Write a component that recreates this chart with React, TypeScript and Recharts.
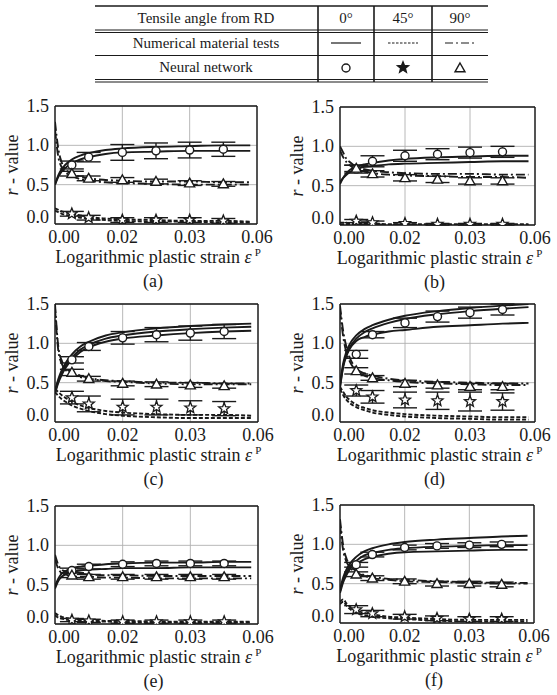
import React from "react";
import {
  ComposedChart,
  Line,
  Scatter,
  ErrorBar,
  XAxis,
  YAxis,
  CartesianGrid,
  ReferenceLine,
} from "recharts";

// strain points used by the numerical material tests, and by the network
const LINE_X = [0, 0.001, 0.002, 0.003, 0.005, 0.0075, 0.01, 0.015, 0.02, 0.03, 0.04, 0.05, 0.058];
const NN_X = [0.005, 0.01, 0.02, 0.03, 0.04, 0.05];

const X_TICKS = [0, 0.02, 0.04, 0.06];
const X_TICK_LABELS = ["0.00", "0.02", "0.03", "0.06"];
const Y_TICKS = [0, 0.5, 1.0, 1.5];
const Y_TICK_LABELS = ["0.0", "0.5", "1.0", "1.5"];
const PANEL_LABELS = ["(a)", "(b)", "(c)", "(d)", "(e)", "(f)"];

// (a)
const A_SIM_0 = [
  [0.5, 0.62, 0.7, 0.75, 0.82, 0.87, 0.9, 0.94, 0.96, 0.98, 0.99, 1.0, 1.0],
  [0.5, 0.6, 0.67, 0.71, 0.77, 0.82, 0.85, 0.89, 0.91, 0.92, 0.93, 0.93, 0.93],
];
const A_SIM_45 = [
  [0.2, 0.18, 0.16, 0.15, 0.13, 0.11, 0.09, 0.07, 0.06, 0.05, 0.04, 0.04, 0.03],
  [0.17, 0.15, 0.13, 0.12, 0.1, 0.08, 0.07, 0.05, 0.04, 0.03, 0.03, 0.02, 0.02],
];
const A_SIM_90 = [
  [1.3, 0.95, 0.78, 0.7, 0.64, 0.6, 0.58, 0.56, 0.55, 0.54, 0.54, 0.53, 0.53],
  [1.2, 0.85, 0.72, 0.66, 0.61, 0.57, 0.55, 0.53, 0.52, 0.51, 0.5, 0.5, 0.5],
];
const A_NN_0 = [0.75, 0.85, 0.91, 0.93, 0.94, 0.95];
const A_ERR_0 = [0.05, 0.06, 0.1, 0.1, 0.1, 0.09];
const A_NN_45 = [0.13, 0.08, 0.05, 0.05, 0.05, 0.04];
const A_ERR_45 = [0.03, 0.03, 0.03, 0.03, 0.03, 0.03];
const A_NN_90 = [0.64, 0.58, 0.56, 0.54, 0.52, 0.51];
const A_ERR_90 = [0.03, 0.03, 0.03, 0.03, 0.03, 0.03];

// (b)
const B_SIM_0 = [
  [0.52, 0.6, 0.66, 0.7, 0.74, 0.77, 0.79, 0.82, 0.84, 0.86, 0.87, 0.88, 0.88],
  [0.55, 0.6, 0.64, 0.67, 0.71, 0.74, 0.75, 0.77, 0.78, 0.79, 0.8, 0.81, 0.81],
];
const B_SIM_45 = [
  [0.03, 0.03, 0.03, 0.02, 0.02, 0.02, 0.02, 0.01, 0.01, 0.01, 0.01, 0.01, 0.01],
  [0.01, 0.01, 0.01, 0.01, 0.01, 0.0, 0.0, 0.0, 0.0, 0.0, 0.0, 0.0, 0.0],
];
const B_SIM_90 = [
  [1.0, 0.92, 0.84, 0.8, 0.74, 0.71, 0.69, 0.67, 0.66, 0.65, 0.65, 0.64, 0.64],
  [0.95, 0.86, 0.8, 0.76, 0.71, 0.68, 0.66, 0.64, 0.63, 0.62, 0.61, 0.61, 0.6],
];
const B_NN_0 = [0.71, 0.81, 0.88, 0.9, 0.92, 0.93];
const B_ERR_0 = [0.05, 0.07, 0.07, 0.07, 0.07, 0.07];
const B_NN_45 = [0.05, 0.03, 0.02, 0.01, 0.01, 0.01];
const B_ERR_45 = [0.02, 0.02, 0.01, 0.01, 0.01, 0.01];
const B_NN_90 = [0.72, 0.65, 0.6, 0.58, 0.56, 0.56];
const B_ERR_90 = [0.04, 0.04, 0.04, 0.04, 0.04, 0.04];

// (c)
const C_SIM_0 = [
  [0.4, 0.55, 0.66, 0.74, 0.86, 0.96, 1.02, 1.1, 1.14, 1.19, 1.22, 1.24, 1.25],
  [0.38, 0.52, 0.63, 0.71, 0.82, 0.92, 0.98, 1.06, 1.1, 1.15, 1.18, 1.2, 1.21],
  [0.36, 0.5, 0.6, 0.68, 0.79, 0.89, 0.95, 1.02, 1.06, 1.1, 1.13, 1.15, 1.16],
];
const C_SIM_45 = [
  [0.42, 0.38, 0.34, 0.31, 0.26, 0.21, 0.18, 0.14, 0.12, 0.1, 0.09, 0.09, 0.08],
  [0.38, 0.33, 0.29, 0.26, 0.21, 0.17, 0.14, 0.1, 0.08, 0.06, 0.05, 0.05, 0.05],
];
const C_SIM_90 = [
  [1.5, 0.95, 0.78, 0.7, 0.63, 0.59, 0.56, 0.53, 0.52, 0.5, 0.5, 0.49, 0.49],
  [1.45, 0.9, 0.74, 0.67, 0.61, 0.57, 0.55, 0.52, 0.51, 0.49, 0.48, 0.48, 0.48],
];
const C_NN_0 = [0.79, 0.96, 1.07, 1.11, 1.13, 1.15];
const C_ERR_0 = [0.04, 0.05, 0.08, 0.09, 0.09, 0.09];
const C_NN_45 = [0.31, 0.23, 0.19, 0.19, 0.18, 0.17];
const C_ERR_45 = [0.08, 0.1, 0.1, 0.1, 0.09, 0.09];
const C_NN_90 = [0.63, 0.55, 0.49, 0.48, 0.47, 0.46];
const C_ERR_90 = [0.04, 0.03, 0.03, 0.03, 0.03, 0.03];

// (d)
const D_SIM_0 = [
  [0.48, 0.75, 0.9, 0.99, 1.1, 1.18, 1.23, 1.3, 1.35, 1.41, 1.45, 1.48, 1.5],
  [0.45, 0.72, 0.86, 0.95, 1.06, 1.14, 1.19, 1.26, 1.31, 1.37, 1.41, 1.44, 1.46],
  [0.43, 0.7, 0.84, 0.93, 1.03, 1.08, 1.11, 1.15, 1.17, 1.21, 1.23, 1.25, 1.26],
];
const D_SIM_45 = [
  [0.45, 0.38, 0.32, 0.28, 0.22, 0.18, 0.15, 0.12, 0.1, 0.08, 0.07, 0.06, 0.06],
  [0.42, 0.34, 0.28, 0.24, 0.19, 0.15, 0.12, 0.09, 0.07, 0.05, 0.04, 0.03, 0.03],
];
const D_SIM_90 = [
  [1.48, 1.15, 0.95, 0.82, 0.68, 0.62, 0.59, 0.55, 0.53, 0.51, 0.5, 0.49, 0.49],
  [1.42, 1.08, 0.88, 0.77, 0.65, 0.59, 0.56, 0.53, 0.51, 0.49, 0.48, 0.47, 0.47],
];
const D_NN_0 = [0.86, 1.11, 1.26, 1.34, 1.39, 1.43];
const D_ERR_0 = [0.05, 0.04, 0.06, 0.07, 0.07, 0.07];
const D_NN_45 = [0.4, 0.32, 0.28, 0.27, 0.26, 0.26];
const D_ERR_45 = [0.07, 0.08, 0.1, 0.11, 0.12, 0.11];
const D_NN_90 = [0.65, 0.56, 0.49, 0.47, 0.45, 0.45];
const D_ERR_90 = [0.04, 0.03, 0.04, 0.04, 0.04, 0.04];

// (e)
const E_SIM_0 = [
  [0.48, 0.58, 0.64, 0.67, 0.71, 0.73, 0.74, 0.76, 0.77, 0.78, 0.78, 0.79, 0.79],
  [0.45, 0.55, 0.6, 0.63, 0.66, 0.68, 0.69, 0.7, 0.71, 0.71, 0.72, 0.72, 0.72],
];
const E_SIM_45 = [
  [0.14, 0.11, 0.09, 0.08, 0.06, 0.05, 0.05, 0.04, 0.04, 0.03, 0.03, 0.03, 0.03],
  [0.11, 0.08, 0.07, 0.06, 0.04, 0.03, 0.03, 0.03, 0.02, 0.02, 0.02, 0.02, 0.02],
];
const E_SIM_90 = [
  [0.88, 0.75, 0.69, 0.67, 0.65, 0.64, 0.63, 0.62, 0.62, 0.61, 0.61, 0.61, 0.61],
  [0.82, 0.7, 0.65, 0.63, 0.61, 0.6, 0.6, 0.59, 0.59, 0.58, 0.58, 0.58, 0.58],
];
const E_NN_0 = [0.68, 0.73, 0.76, 0.77, 0.77, 0.77];
const E_ERR_0 = [0.03, 0.03, 0.03, 0.03, 0.03, 0.03];
const E_NN_45 = [0.05, 0.04, 0.03, 0.03, 0.03, 0.03];
const E_ERR_45 = [0.02, 0.02, 0.02, 0.02, 0.02, 0.02];
const E_NN_90 = [0.62, 0.6, 0.6, 0.6, 0.6, 0.6];
const E_ERR_90 = [0.03, 0.03, 0.03, 0.03, 0.03, 0.03];

// (f)
const F_SIM_0 = [
  [0.42, 0.58, 0.68, 0.75, 0.84, 0.91, 0.95, 1.0, 1.03, 1.06, 1.08, 1.1, 1.11],
  [0.4, 0.55, 0.64, 0.71, 0.79, 0.86, 0.89, 0.93, 0.95, 0.97, 0.98, 0.99, 0.99],
  [0.38, 0.52, 0.61, 0.68, 0.75, 0.81, 0.84, 0.88, 0.9, 0.91, 0.92, 0.93, 0.93],
];
const F_SIM_45 = [
  [0.27, 0.3, 0.25, 0.21, 0.16, 0.13, 0.11, 0.08, 0.07, 0.05, 0.04, 0.04, 0.04],
  [0.24, 0.27, 0.22, 0.18, 0.13, 0.1, 0.08, 0.06, 0.05, 0.03, 0.02, 0.02, 0.02],
];
const F_SIM_90 = [
  [1.32, 0.98, 0.82, 0.74, 0.66, 0.61, 0.59, 0.56, 0.55, 0.53, 0.52, 0.51, 0.51],
  [1.25, 0.92, 0.78, 0.71, 0.64, 0.6, 0.57, 0.55, 0.53, 0.52, 0.51, 0.5, 0.5],
];
const F_NN_0 = [0.74, 0.87, 0.96, 0.98, 0.99, 1.0];
const F_ERR_0 = [0.03, 0.03, 0.03, 0.03, 0.03, 0.03];
const F_NN_45 = [0.17, 0.12, 0.08, 0.06, 0.05, 0.05];
const F_ERR_45 = [0.05, 0.04, 0.03, 0.03, 0.03, 0.03];
const F_NN_90 = [0.62, 0.57, 0.53, 0.5, 0.5, 0.49];
const F_ERR_90 = [0.03, 0.03, 0.03, 0.03, 0.03, 0.03];

const FONT = "Liberation Serif, Times New Roman, Times, DejaVu Serif, Noto Serif, serif";
const INK = "#1a1a1a";
const DASH_45 = "4 2";
const DASH_90 = "9 3 2 3";

// plot-area boxes (left, top, width) for each panel, height is shared
const BOX = [
  { left: 55, top: 106, width: 202 },
  { left: 340, top: 107, width: 195 },
  { left: 55, top: 304, width: 203 },
  { left: 340, top: 304, width: 195 },
  { left: 55, top: 506, width: 203 },
  { left: 340, top: 505, width: 194 },
];
const PLOT_H = 118;

const toLine = (ys: number[]) => LINE_X.map((x, i) => ({ x, y: ys[i] }));
const toPts = (ys: number[], es: number[]) => NN_X.map((x, i) => ({ x, y: ys[i], e: es[i] }));

const PANELS = [
  { sim: [A_SIM_0, A_SIM_45, A_SIM_90], nn: [[A_NN_0, A_ERR_0], [A_NN_45, A_ERR_45], [A_NN_90, A_ERR_90]] },
  { sim: [B_SIM_0, B_SIM_45, B_SIM_90], nn: [[B_NN_0, B_ERR_0], [B_NN_45, B_ERR_45], [B_NN_90, B_ERR_90]] },
  { sim: [C_SIM_0, C_SIM_45, C_SIM_90], nn: [[C_NN_0, C_ERR_0], [C_NN_45, C_ERR_45], [C_NN_90, C_ERR_90]] },
  { sim: [D_SIM_0, D_SIM_45, D_SIM_90], nn: [[D_NN_0, D_ERR_0], [D_NN_45, D_ERR_45], [D_NN_90, D_ERR_90]] },
  { sim: [E_SIM_0, E_SIM_45, E_SIM_90], nn: [[E_NN_0, E_ERR_0], [E_NN_45, E_ERR_45], [E_NN_90, E_ERR_90]] },
  { sim: [F_SIM_0, F_SIM_45, F_SIM_90], nn: [[F_NN_0, F_ERR_0], [F_NN_45, F_ERR_45], [F_NN_90, F_ERR_90]] },
];

const DASHES = [undefined, DASH_45, DASH_90];
const KINDS = ["circle", "star", "triangle"];

function starPath(cx: number, cy: number, ro: number, ri: number) {
  let d = "";
  for (let k = 0; k < 10; k++) {
    const r = k % 2 === 0 ? ro : ri;
    const a = -Math.PI / 2 + (k * Math.PI) / 5;
    d += (k === 0 ? "M" : "L") + (cx + r * Math.cos(a)).toFixed(2) + "," + (cy + r * Math.sin(a)).toFixed(2);
  }
  return d + "Z";
}

function Marker({ cx, cy, kind, fill = "#fff" }: any) {
  if (cx == null || cy == null) return null;
  if (kind === "circle")
    return <circle cx={cx} cy={cy} r={4} fill={fill} stroke={INK} strokeWidth={1.4} />;
  if (kind === "star")
    return <path d={starPath(cx, cy, 5.8, 2.5)} fill={fill} stroke={INK} strokeWidth={1.3} />;
  return (
    <path
      d={`M${cx},${cy - 5} L${cx + 5},${cy + 3.8} L${cx - 5},${cy + 3.8} Z`}
      fill={fill}
      stroke={INK}
      strokeWidth={1.4}
    />
  );
}

const txt = { fontFamily: FONT, fontSize: 18, fill: INK };

function XTick({ x, y, payload }: any) {
  const i = X_TICKS.indexOf(payload.value);
  return (
    <text x={x + (i === 0 ? 9 : 0)} y={y + 19} textAnchor="middle" fontFamily={FONT} style={txt}>
      {X_TICK_LABELS[i]}
    </text>
  );
}

function YTick({ x, y, payload }: any) {
  const i = Y_TICKS.indexOf(payload.value);
  return (
    <text x={x - 6} y={y + 6 - (i === 0 ? 7 : 0)} textAnchor="end" fontFamily={FONT} style={txt}>
      {Y_TICK_LABELS[i]}
    </text>
  );
}

function Panel({ idx }: { idx: number }) {
  const box = BOX[idx];
  const p = PANELS[idx];
  return (
    <div style={{ position: "absolute", left: box.left - 45, top: box.top - 10 }}>
      <ComposedChart width={box.width + 70} height={PLOT_H + 40} margin={{ top: 10, right: 25, bottom: 0, left: 0 }}>
        <CartesianGrid stroke="#b0b0b0" strokeWidth={0.9} />
        <XAxis
          type="number"
          dataKey="x"
          domain={[0, 0.06]}
          ticks={X_TICKS}
          interval={0}
          allowDataOverflow
          height={30}
          tickSize={0}
          tickMargin={0}
          tickLine={false}
          axisLine={{ stroke: INK, strokeWidth: 1.4 }}
          tick={<XTick />}
        />
        <YAxis
          type="number"
          domain={[0, 1.5]}
          ticks={Y_TICKS}
          interval={0}
          allowDataOverflow
          width={45}
          tickSize={0}
          tickMargin={0}
          tickLine={false}
          axisLine={{ stroke: INK, strokeWidth: 1.4 }}
          tick={<YTick />}
        />
        <ReferenceLine x={0.06} stroke={INK} strokeWidth={1.4} />
        <ReferenceLine y={1.5} stroke={INK} strokeWidth={1.4} />
        {p.sim.map((group, g) =>
          group.map((ys, k) => (
            <Line
              key={`l${g}-${k}`}
              data={toLine(ys)}
              dataKey="y"
              type="monotone"
              stroke={INK}
              strokeWidth={1.9}
              strokeDasharray={DASHES[g]}
              dot={false}
              activeDot={false}
              isAnimationActive={false}
            />
          ))
        )}
        {/* error bars first, markers drawn over them */}
        {p.nn.map(([ys, es], g) => (
          <Scatter
            key={`e${g}`}
            data={toPts(ys, es)}
            dataKey="y"
            isAnimationActive={false}
            shape={() => <g />}
          >
            <ErrorBar dataKey="e" direction="y" width={12} stroke={INK} strokeWidth={1.4} isAnimationActive={false} />
          </Scatter>
        ))}
        {p.nn.map(([ys, es], g) => (
          <Scatter
            key={`s${g}`}
            data={toPts(ys, es)}
            dataKey="y"
            isAnimationActive={false}
            shape={(s: any) => <Marker cx={s.cx} cy={s.cy} kind={KINDS[g]} />}
          />
        ))}
      </ComposedChart>
    </div>
  );
}

function Titles() {
  return (
    <>
      {BOX.map((b, i) => {
        const cx = b.left + b.width / 2;
        const bottom = b.top + PLOT_H;
        const yx = b.left - 37;
        const yy = b.top + PLOT_H / 2;
        return (
          <g key={i} fontFamily={FONT} style={txt}>
            <text x={yx} y={yy} textAnchor="middle" transform={`rotate(-90 ${yx} ${yy})`}>
              <tspan fontStyle="italic">r</tspan> - value
            </text>
            <text x={cx + 2} y={bottom + 39} textAnchor="middle">
              Logarithmic plastic strain <tspan fontStyle="italic">ε</tspan>
              <tspan dx={3} dy={-7} fontSize={11}>P</tspan>
            </text>
            <text x={cx - 3} y={bottom + 63} textAnchor="middle">
              {PANEL_LABELS[i]}
            </text>
          </g>
        );
      })}
    </>
  );
}

function LegendTable() {
  const x0 = 95;
  const x1 = 488;
  const cols = [318, 374, 432];
  const centers = [346, 403, 460];
  return (
    <g fontFamily={FONT} style={{ fontFamily: FONT, fontSize: 15, fill: INK }}>
      <line x1={x0} x2={x1} y1={6} y2={6} stroke={INK} strokeWidth={1.3} />
      <line x1={x0} x2={x1} y1={30} y2={30} stroke={INK} strokeWidth={1.1} />
      <line x1={x0} x2={x1} y1={32.5} y2={32.5} stroke={INK} strokeWidth={1.1} />
      <line x1={x0} x2={x1} y1={55.5} y2={55.5} stroke={INK} strokeWidth={1.2} />
      <line x1={x0} x2={x1} y1={79.5} y2={79.5} stroke={INK} strokeWidth={1.1} />
      <line x1={x0} x2={x1} y1={82} y2={82} stroke={INK} strokeWidth={1.1} />
      {cols.map((c) => (
        <line key={c} x1={c} x2={c} y1={6} y2={82} stroke={INK} strokeWidth={1.6} />
      ))}
      <text x={206} y={23} textAnchor="middle">Tensile angle from RD</text>
      <text x={206} y={48} textAnchor="middle">Numerical material tests</text>
      <text x={206} y={72} textAnchor="middle">Neural network</text>
      <text x={centers[0]} y={23} textAnchor="middle">0°</text>
      <text x={centers[1]} y={23} textAnchor="middle">45°</text>
      <text x={centers[2]} y={23} textAnchor="middle">90°</text>
      <line x1={centers[0] - 15} x2={centers[0] + 15} y1={43} y2={43} stroke={INK} strokeWidth={1.2} />
      <line x1={centers[1] - 15} x2={centers[1] + 15} y1={43} y2={43} stroke={INK} strokeWidth={1.2} strokeDasharray="2.5 1.5" />
      <line x1={centers[2] - 15} x2={centers[2] + 15} y1={43} y2={43} stroke={INK} strokeWidth={1.2} strokeDasharray="8 3 2 3" />
      <Marker cx={centers[0]} cy={68} kind="circle" />
      <Marker cx={centers[1]} cy={67.5} kind="star" fill={INK} />
      <Marker cx={centers[2]} cy={68} kind="triangle" />
    </g>
  );
}

export default function App() {
  return (
    <div
      style={{
        position: "absolute",
        left: 0,
        top: 0,
        width: 557,
        height: 695,
        background: "#fff",
        fontFamily: FONT,
      }}
    >
      <svg width={557} height={695} style={{ position: "absolute", left: 0, top: 0, fontFamily: FONT }}>
        <LegendTable />
        <Titles />
      </svg>
      {BOX.map((_, i) => (
        <Panel key={i} idx={i} />
      ))}
    </div>
  );
}
